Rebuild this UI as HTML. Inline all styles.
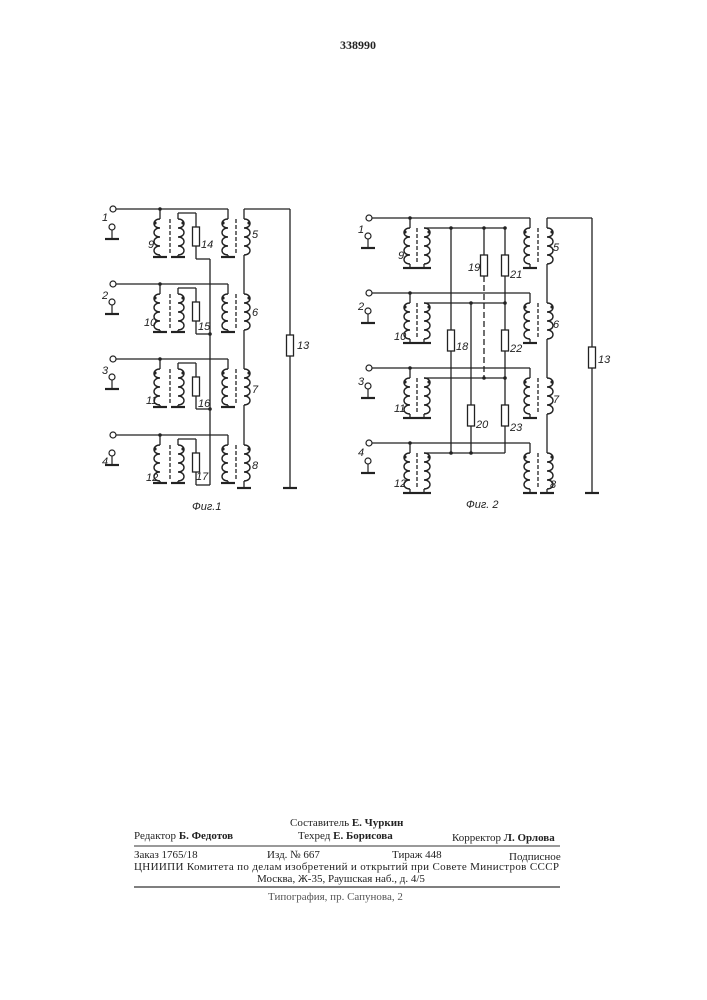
<!DOCTYPE html>
<html><head><meta charset="utf-8"><style>
html,body{margin:0;padding:0;background:#fff}
body{width:707px;height:1000px;position:relative;overflow:hidden}
svg{position:absolute;left:0;top:0}
.t{font-family:"Liberation Serif",serif;font-size:11px;fill:#222}
.b{font-weight:bold}
.l{font-family:"Liberation Sans",sans-serif;font-style:italic;font-size:11px;fill:#222}
</style></head><body>
<svg width="707" height="1000" viewBox="0 0 707 1000">
<defs>
<path id="cl" d="M0,0 c-8,0 -8,9 0,9 c-8,0 -8,9 0,9 c-8,0 -8,9 0,9 c-8,0 -8,9 0,9" fill="none" stroke="#222" stroke-width="1.4"/>
<path id="cr" d="M0,0 c8,0 8,9 0,9 c8,0 8,9 0,9 c8,0 8,9 0,9 c8,0 8,9 0,9" fill="none" stroke="#222" stroke-width="1.4"/>
<g id="gnd"><line x1="-7" y1="0" x2="7" y2="0" stroke="#222" stroke-width="2.2"/></g>
<g id="lt"><circle cx="0" cy="0" r="3" fill="#fff" stroke="#222" stroke-width="1.2"/><line x1="0" y1="3" x2="0" y2="12" stroke="#222" stroke-width="1.2"/><line x1="-7" y1="12" x2="7" y2="12" stroke="#222" stroke-width="2.2"/></g>
<g id="r1"><line x1="0" y1="0" x2="0" y2="0" stroke="#222"/><circle cx="113" cy="0" r="3" fill="#fff" stroke="#222" stroke-width="1.2"/>
<g stroke="#222" stroke-width="1.3" fill="none">
<line x1="116" y1="0" x2="228" y2="0"/>
<line x1="160" y1="0" x2="160" y2="10"/><line x1="160" y1="46" x2="160" y2="48"/>
<line x1="178" y1="4" x2="196" y2="4"/><line x1="178" y1="4" x2="178" y2="10"/><line x1="178" y1="46" x2="178" y2="48"/>
<line x1="196" y1="4" x2="196" y2="18"/><rect x="192.5" y="18" width="7" height="19"/><line x1="196" y1="37" x2="196" y2="50"/><line x1="196" y1="50" x2="210" y2="50"/>
<line x1="170" y1="10" x2="170" y2="46" stroke-dasharray="4,2"/>
<line x1="228" y1="0" x2="228" y2="10"/><line x1="228" y1="46" x2="228" y2="48"/>
<line x1="236" y1="10" x2="236" y2="46" stroke-dasharray="4,2"/>
</g>
<use href="#cl" x="160" y="10"/><use href="#cr" x="178" y="10"/><use href="#cl" x="228" y="10"/><use href="#cr" x="244" y="10"/>
<use href="#gnd" x="160" y="48"/><use href="#gnd" x="178" y="48"/><use href="#gnd" x="228" y="48"/>
<use href="#lt" x="112" y="18"/>
<circle cx="160" cy="0" r="1.8" fill="#222"/><circle cx="155" cy="14" r="1.6" fill="#222"/><circle cx="183" cy="14" r="1.6" fill="#222"/><circle cx="223" cy="14" r="1.6" fill="#222"/><circle cx="249" cy="14" r="1.6" fill="#222"/>
</g>
<g id="r2"><circle cx="369" cy="0" r="3" fill="#fff" stroke="#222" stroke-width="1.2"/>
<g stroke="#222" stroke-width="1.3" fill="none">
<line x1="372" y1="0" x2="530" y2="0"/>
<line x1="410" y1="0" x2="410" y2="10"/><line x1="410" y1="46" x2="410" y2="50"/>
<line x1="424" y1="10" x2="505" y2="10"/><line x1="424" y1="46" x2="424" y2="50"/>
<line x1="417" y1="10" x2="417" y2="46" stroke-dasharray="4,2"/>
<line x1="530" y1="0" x2="530" y2="10"/><line x1="530" y1="46" x2="530" y2="50"/>
<line x1="538" y1="10" x2="538" y2="46" stroke-dasharray="4,2"/>
</g>
<use href="#cl" x="410" y="10"/><use href="#cr" x="424" y="10"/><use href="#cl" x="530" y="10"/><use href="#cr" x="547" y="10"/>
<use href="#gnd" x="410" y="50"/><use href="#gnd" x="424" y="50"/><use href="#gnd" x="530" y="50"/>
<use href="#lt" x="368" y="18"/>
<circle cx="410" cy="0" r="1.8" fill="#222"/><circle cx="405" cy="14" r="1.6" fill="#222"/><circle cx="429" cy="14" r="1.6" fill="#222"/><circle cx="525" cy="14" r="1.6" fill="#222"/><circle cx="552" cy="14" r="1.6" fill="#222"/>
</g>
</defs>

<text x="340" y="49" class="t b" style="font-size:12px">338990</text>

<!-- Fig 1 -->
<use href="#r1" x="0" y="209"/><use href="#r1" x="0" y="284"/><use href="#r1" x="0" y="359"/><use href="#r1" x="0" y="435"/>
<g stroke="#222" stroke-width="1.3" fill="none">
<line x1="210" y1="259" x2="210" y2="485"/>
<line x1="244" y1="209" x2="244" y2="219"/><line x1="244" y1="255" x2="244" y2="294"/><line x1="244" y1="330" x2="244" y2="369"/><line x1="244" y1="405" x2="244" y2="445"/><line x1="244" y1="481" x2="244" y2="488"/>
<line x1="244" y1="209" x2="290" y2="209"/><line x1="290" y1="209" x2="290" y2="335"/><rect x="286.5" y="335" width="7" height="21"/><line x1="290" y1="356" x2="290" y2="488"/>
</g>
<use href="#gnd" x="244" y="488"/><use href="#gnd" x="290" y="488"/>
<circle cx="210" cy="334" r="1.8" fill="#222"/><circle cx="210" cy="409" r="1.8" fill="#222"/>
<g class="l">
<text x="102" y="221">1</text><text x="102" y="299">2</text><text x="102" y="374">3</text><text x="102" y="465">4</text>
<text x="148" y="248">9</text><text x="144" y="326">10</text><text x="146" y="404">11</text><text x="146" y="481">12</text>
<text x="201" y="248">14</text><text x="198" y="330">15</text><text x="198" y="407">16</text><text x="196" y="480">17</text>
<text x="252" y="238">5</text><text x="252" y="316">6</text><text x="252" y="393">7</text><text x="252" y="469">8</text>
<text x="297" y="349">13</text><text x="192" y="510">Фиг.1</text>
</g>

<!-- Fig 2 -->
<use href="#r2" x="0" y="218"/><use href="#r2" x="0" y="293"/><use href="#r2" x="0" y="368"/><use href="#r2" x="0" y="443"/>
<g stroke="#222" stroke-width="1.3" fill="none">
<line x1="451" y1="228" x2="451" y2="330"/><rect x="447.5" y="330" width="7" height="21"/><line x1="451" y1="351" x2="451" y2="453"/>
<line x1="484" y1="228" x2="484" y2="255"/><rect x="480.5" y="255" width="7" height="21"/><line x1="484" y1="276" x2="484" y2="378" stroke-dasharray="6,3"/>
<line x1="471" y1="303" x2="471" y2="405"/><rect x="467.5" y="405" width="7" height="21"/><line x1="471" y1="426" x2="471" y2="453"/>
<line x1="505" y1="228" x2="505" y2="255"/><rect x="501.5" y="255" width="7" height="21"/><line x1="505" y1="276" x2="505" y2="330"/><rect x="501.5" y="330" width="7" height="21"/><line x1="505" y1="351" x2="505" y2="405"/><rect x="501.5" y="405" width="7" height="21"/><line x1="505" y1="426" x2="505" y2="453"/>
<line x1="547" y1="218" x2="547" y2="228"/><line x1="547" y1="264" x2="547" y2="303"/><line x1="547" y1="339" x2="547" y2="378"/><line x1="547" y1="414" x2="547" y2="453"/><line x1="547" y1="489" x2="547" y2="493"/>
<line x1="547" y1="218" x2="592" y2="218"/><line x1="592" y1="218" x2="592" y2="347"/><rect x="588.5" y="347" width="7" height="21"/><line x1="592" y1="368" x2="592" y2="493"/>
</g>
<use href="#gnd" x="547" y="493"/><use href="#gnd" x="592" y="493"/>
<g fill="#222"><circle cx="451" cy="228" r="1.8"/><circle cx="484" cy="228" r="1.8"/><circle cx="505" cy="228" r="1.8"/><circle cx="471" cy="303" r="1.8"/><circle cx="505" cy="303" r="1.8"/><circle cx="484" cy="378" r="1.8"/><circle cx="505" cy="378" r="1.8"/><circle cx="451" cy="453" r="1.8"/><circle cx="471" cy="453" r="1.8"/></g>
<g class="l">
<text x="358" y="233">1</text><text x="358" y="310">2</text><text x="358" y="385">3</text><text x="358" y="456">4</text>
<text x="398" y="259">9</text><text x="394" y="340">10</text><text x="394" y="412">11</text><text x="394" y="487">12</text>
<text x="468" y="271">19</text><text x="510" y="278">21</text><text x="456" y="350">18</text><text x="510" y="352">22</text>
<text x="476" y="428">20</text><text x="510" y="431">23</text>
<text x="553" y="251">5</text><text x="553" y="328">6</text><text x="553" y="403">7</text><text x="550" y="488">8</text>
<text x="598" y="363">13</text><text x="466" y="508">Фиг. 2</text>
</g>

<!-- Footer -->
<g class="t">
<text x="290" y="826">Составитель <tspan class="b">Е. Чуркин</tspan></text>
<text x="134" y="839">Редактор <tspan class="b">Б. Федотов</tspan></text>
<text x="298" y="839">Техред <tspan class="b">Е. Борисова</tspan></text>
<text x="452" y="841">Корректор <tspan class="b">Л. Орлова</tspan></text>
<text x="134" y="858">Заказ 1765/18</text>
<text x="267" y="858">Изд. № 667</text>
<text x="392" y="858">Тираж 448</text>
<text x="509" y="860">Подписное</text>
<text x="134" y="870" textLength="425">ЦНИИПИ Комитета по делам изобретений и открытий при Совете Министров СССР</text>
<text x="257" y="882">Москва, Ж-35, Раушская наб., д. 4/5</text>
<text x="268" y="900" style="fill:#555">Типография, пр. Сапунова, 2</text>
</g>
<line x1="134" y1="846" x2="560" y2="846" stroke="#333" stroke-width="1"/>
<line x1="134" y1="887" x2="560" y2="887" stroke="#333" stroke-width="1.2"/>
</svg>
</body></html>
